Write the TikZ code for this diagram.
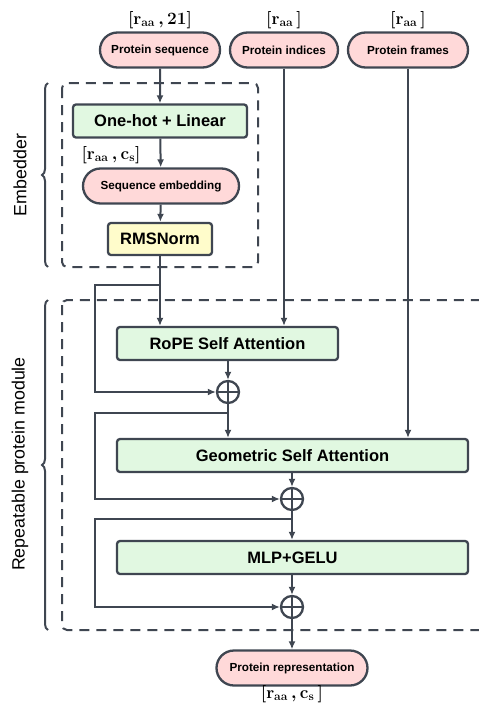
\documentclass[tikz,border=0pt]{standalone}
\usepackage{fontspec}
\setsansfont{Liberation Sans}
\usetikzlibrary{arrows.meta,shapes.misc,decorations.pathreplacing}
\definecolor{ln}{HTML}{3F4651}
\definecolor{pinkf}{HTML}{FFD9D9}
\definecolor{greenf}{HTML}{E1F8E1}
\definecolor{yellf}{HTML}{FFFCCB}
\newcommand{\dimA}{{\boldmath\ensuremath{[\mathbf{r}_{\mathbf{aa}}\,,\mathbf{21}]}}}
\newcommand{\dimB}{{\boldmath\ensuremath{[\mathbf{r}_{\mathbf{aa}}\,]}}}
\newcommand{\dimC}{{\boldmath\ensuremath{[\mathbf{r}_{\mathbf{aa}}\,,\mathbf{c}_{\mathbf{s}}]}}}
\newcommand{\dimD}{{\boldmath\ensuremath{[\mathbf{r}_{\mathbf{aa}}\,,\mathbf{c}_{\mathbf{s}}\,]}}}
\begin{document}
\begin{tikzpicture}[x=1pt,y=-1pt,line width=2pt,
  pill/.style={rounded rectangle,draw=ln,fill=pinkf,line width=2.3pt,inner sep=0pt,minimum height=35pt,font=\sffamily\bfseries\fontsize{11.7}{13}\selectfont,text=black},
  blk/.style={rectangle,rounded corners=3pt,draw=ln,fill=greenf,line width=2.3pt,inner sep=0pt,minimum height=33pt,font=\sffamily\bfseries\fontsize{16.5}{18}\selectfont,text=black},
  arr/.style={draw=ln,line width=2pt,-{Latex[length=8pt,width=7pt]}},
  conn/.style={draw=ln,line width=2pt},
  plus/.style={circle,draw=ln,line width=2.3pt,minimum size=22pt,inner sep=0pt},
  dbox/.style={draw=ln,line width=2pt,dash pattern=on 10pt off 7pt,rounded corners=5pt},
  brc/.style={draw=ln,line width=2pt,decorate,decoration={brace,amplitude=6pt}},
  dimlab/.style={font=\fontsize{18}{20}\selectfont,text=black,inner sep=0pt}]
\clip (0,0) rectangle (479,704);
% dashed groups
\draw[dbox] (62,83) rectangle (258,267);
\draw[dbox] (62,300) rectangle (500,630);
% braces
\draw[brc] (48,267) -- (48,83);
\draw[brc] (48,630) -- (48,300);
\node[rotate=90,font=\sffamily\fontsize{17.8}{20}\selectfont] (lemb) at (20,175) {Embedder};
\node[rotate=90,font=\sffamily\fontsize{17.8}{20}\selectfont] (lrep) at (20,464) {Repeatable protein module};
% inputs
\node[pill,minimum width=120pt] (seq) at (160,50) {Protein sequence};
\node[pill,minimum width=108pt] (ind) at (284,50) {Protein indices};
\node[pill,minimum width=120pt] (frm) at (408,50) {Protein frames};
\node[dimlab] (d1) at (160,20) {\dimA};
\node[dimlab] (d2) at (284,20) {\dimB};
\node[dimlab] (d3) at (408,20) {\dimB};
% embedder
\node[blk,minimum width=174pt] (oh) at (160,121) {One-hot + Linear};
\node[dimlab] (d4) at (111,155) {\dimC};
\node[pill,minimum width=156pt] (semb) at (161,186) {Sequence embedding};
\node[blk,fill=yellf,minimum width=104pt,minimum height=32pt] (rms) at (160,239) {RMSNorm};
% module
\node[blk,minimum width=221pt] (rope) at (227.5,343.5) {RoPE Self Attention};
\node[plus] (p1) at (228,392) {};
\node[blk,minimum width=351pt] (geo) at (292.5,455.5) {Geometric Self Attention};
\node[plus] (p2) at (292,499) {};
\node[blk,minimum width=351pt] (mlp) at (292.5,557.5) {MLP+GELU};
\node[plus] (p3) at (292,607) {};
\node[pill,minimum width=151pt] (rep) at (292,668) {Protein representation};
\node[dimlab] (d5) at (292,694) {\dimD};
% plus crosses
\foreach \p in {p1,p2,p3}{
  \draw[conn] (\p.north) -- (\p.south);
  \draw[conn] (\p.west) -- (\p.east);
}
% connectors
\draw[arr] (seq) -- (oh);
\draw[arr] (oh) -- (semb);
\draw[arr] (semb) -- (rms);
\draw[arr] (rms.south) -- (rms.south |- rope.north);
\draw[arr] (ind.south) -- (ind.south |- rope.north);
\draw[arr] (frm.south) -- (frm.south |- geo.north);
\coordinate (b1) at (160,285);
\coordinate (b2) at (228,413);
\coordinate (b3) at (292,519);
\draw[arr] (b1) -- (95,285) -- (95,392) -- (p1.west);
\draw[arr] (rope.south -| p1) -- (p1.north);
\draw[arr] (p1.south) -- (p1.south |- geo.north);
\draw[arr] (b2) -- (95,413) -- (95,499) -- (p2.west);
\draw[arr] (geo.south -| p2) -- (p2.north);
\draw[arr] (p2.south) -- (p2.south |- mlp.north);
\draw[arr] (b3) -- (95,519) -- (95,607) -- (p3.west);
\draw[arr] (mlp.south -| p3) -- (p3.north);
\draw[arr] (p3.south) -- (rep.north);
\end{tikzpicture}
\end{document}
